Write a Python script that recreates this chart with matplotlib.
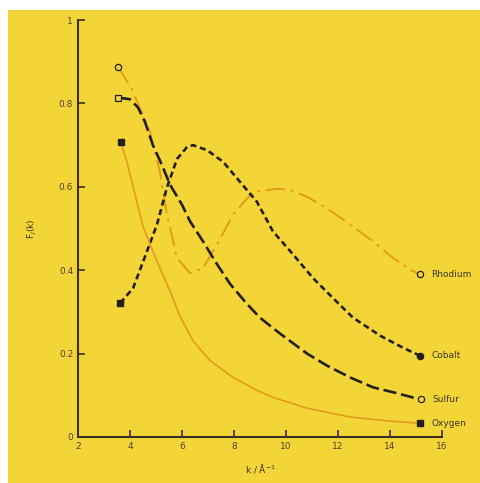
import matplotlib

matplotlib.use("Agg")

from matplotlib import pyplot as plt
from matplotlib.patches import Rectangle

YELLOW = "#f4d538"
ORANGE = "#e39a1c"
INK = "#222018"

rhodium_k = [3.54, 4.08, 4.77, 5.15, 5.42, 5.81, 6.31, 6.81, 7.35, 7.96, 8.73, 9.65,
             10.15, 10.81, 11.58, 12.46, 13.35, 14.12, 14.88, 15.15]
rhodium_f = [0.888, 0.833, 0.731, 0.636, 0.533, 0.429, 0.393, 0.405, 0.462, 0.533, 0.588, 0.595,
             0.593, 0.576, 0.548, 0.51, 0.469, 0.429, 0.398, 0.39]

cobalt_k = [3.62, 4.12, 4.65, 5.04, 5.42, 5.81, 6.19, 6.42, 6.96, 7.58, 8.23, 8.88,
            9.5, 10.27, 11.04, 11.81, 12.58, 13.62, 14.5, 15.15]
cobalt_f = [0.321, 0.357, 0.445, 0.51, 0.598, 0.667, 0.695, 0.70, 0.688, 0.66, 0.612, 0.564,
            0.493, 0.438, 0.381, 0.333, 0.286, 0.243, 0.214, 0.195]

sulfur_k = [3.54, 4.0, 4.31, 4.58, 4.88, 5.23, 5.54, 6.0, 6.31, 6.81, 7.35, 7.85,
            8.5, 9.0, 9.77, 10.81, 11.58, 12.46, 13.35, 14.27, 15.04, 15.2]
sulfur_f = [0.814, 0.81, 0.79, 0.755, 0.70, 0.652, 0.605, 0.557, 0.517, 0.469, 0.414, 0.367,
            0.319, 0.286, 0.248, 0.2, 0.171, 0.143, 0.119, 0.105, 0.092, 0.09]

oxygen_k = [3.65, 3.88, 4.12, 4.5, 5.04, 5.54, 5.92, 6.42, 7.08, 7.96, 8.88, 9.5,
            10.81, 12.46, 14.0, 15.15]
oxygen_f = [0.707, 0.66, 0.6, 0.505, 0.421, 0.35, 0.29, 0.231, 0.183, 0.143, 0.112, 0.095,
            0.069, 0.048, 0.038, 0.033]

x_ticks = [2, 4, 6, 8, 10, 12, 14, 16]
y_ticks = [0, 0.2, 0.4, 0.6, 0.8, 1]
y_tick_labels = ["0", "0.2", "0.4", "0.6", "0.8", "1"]

fig = plt.figure(figsize=(4.8, 4.83), dpi=100)
fig.patches.append(Rectangle((8 / 480, 0), 1.0, 473 / 483, transform=fig.transFigure,
                             facecolor=YELLOW, edgecolor="none", zorder=-10))
ax = fig.add_axes([78 / 480, 46 / 483, 364 / 480, 417 / 483])
ax.patch.set_alpha(0.0)

line_kw = dict(solid_joinstyle="round", dash_joinstyle="round", dash_capstyle="butt")
ax.plot(rhodium_k, rhodium_f, color=ORANGE, linewidth=1.4, dashes=(10, 3, 1.5, 3), **line_kw)
ax.plot(cobalt_k, cobalt_f, color=INK, linewidth=1.9, dashes=(2.3, 1.4), **line_kw)
ax.plot(sulfur_k, sulfur_f, color=INK, linewidth=1.9, dashes=(5, 1.8), **line_kw)
ax.plot(oxygen_k, oxygen_f, color=ORANGE, linewidth=1.2, **line_kw)

ms = 4.5
ax.plot(rhodium_k[0], rhodium_f[0], "o", ms=ms, mfc=YELLOW, mec=INK, mew=0.9)
ax.plot(rhodium_k[-1], rhodium_f[-1], "o", ms=ms, mfc=YELLOW, mec=INK, mew=0.9)
ax.plot(cobalt_k[0], cobalt_f[0], "s", ms=ms, color=INK)
ax.plot(cobalt_k[-1], cobalt_f[-1], "o", ms=ms, color=INK)
ax.plot(sulfur_k[0], sulfur_f[0], "s", ms=ms, mfc=YELLOW, mec=INK, mew=0.9)
ax.plot(sulfur_k[-1], sulfur_f[-1], "o", ms=ms, mfc=YELLOW, mec=INK, mew=0.9)
ax.plot(oxygen_k[0], oxygen_f[0], "s", ms=ms, color=INK)
ax.plot(oxygen_k[-1], oxygen_f[-1], "s", ms=ms, color=INK)

labels = [("Rhodium", rhodium_k, rhodium_f), ("Cobalt", cobalt_k, cobalt_f),
          ("Sulfur", sulfur_k, sulfur_f), ("Oxygen", oxygen_k, oxygen_f)]
for name, ks, fs in labels:
    ax.annotate(name, (ks[-1], fs[-1]), xytext=(8, 0), textcoords="offset points",
                va="center", ha="left", fontsize=6.5, color="#3a3528", clip_on=False)

ax.set_xlim(2, 16)
ax.set_ylim(0, 1)
ax.set_xticks(x_ticks)
ax.set_yticks(y_ticks)
ax.set_yticklabels(y_tick_labels)
for side in ["top", "right"]:
    ax.spines[side].set_visible(False)
for side in ["left", "bottom"]:
    ax.spines[side].set_color("#3a3020")
    ax.spines[side].set_linewidth(1.5)
ax.tick_params(direction="in", length=5, width=1.2, color="#3a3020",
               labelsize=6.5, labelcolor="#4a4535")
ax.set_xlabel("k / Å$^{-1}$", fontsize=6.5, color="#3a3528", labelpad=8)
ax.set_ylabel("F$_j$(k)", fontsize=6.5, color="#3a3528", labelpad=14)

fig.savefig("out.png", dpi=100)
